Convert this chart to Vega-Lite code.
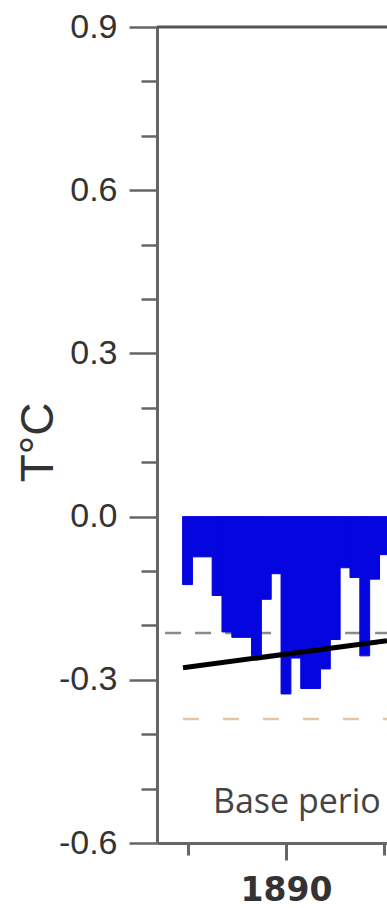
{
  "$schema": "https://vega.github.io/schema/vega-lite/v6.json",
  "width": 230,
  "height": 816,
  "autosize": {"type": "none"},
  "padding": {"left": 157, "top": 27, "right": 0, "bottom": 65},
  "background": "white",
  "config": {"view": {"stroke": null}},
  "datasets": {
    "bars": [
      {"x": 1884.75, "x2": 1885.25, "y": -0.125},
      {"x": 1885.25, "x2": 1885.75, "y": -0.074},
      {"x": 1885.75, "x2": 1886.25, "y": -0.074},
      {"x": 1886.25, "x2": 1886.75, "y": -0.145},
      {"x": 1886.75, "x2": 1887.25, "y": -0.212},
      {"x": 1887.25, "x2": 1887.75, "y": -0.222},
      {"x": 1887.75, "x2": 1888.25, "y": -0.222},
      {"x": 1888.25, "x2": 1888.75, "y": -0.256},
      {"x": 1888.75, "x2": 1889.25, "y": -0.152},
      {"x": 1889.25, "x2": 1889.75, "y": -0.105},
      {"x": 1889.75, "x2": 1890.25, "y": -0.326},
      {"x": 1890.25, "x2": 1890.75, "y": -0.26},
      {"x": 1890.75, "x2": 1891.25, "y": -0.316},
      {"x": 1891.25, "x2": 1891.75, "y": -0.316},
      {"x": 1891.75, "x2": 1892.25, "y": -0.28},
      {"x": 1892.25, "x2": 1892.75, "y": -0.226},
      {"x": 1892.75, "x2": 1893.25, "y": -0.094},
      {"x": 1893.25, "x2": 1893.75, "y": -0.112},
      {"x": 1893.75, "x2": 1894.25, "y": -0.256},
      {"x": 1894.25, "x2": 1894.75, "y": -0.115},
      {"x": 1894.75, "x2": 1895.25, "y": -0.07}
    ],
    "grey": [{"x": 1883.86, "x2": 1895.13, "y": -0.214}],
    "tan": [{"x": 1884.77, "x2": 1895.13, "y": -0.372}],
    "trend": [{"x": 1884.77, "y": -0.278}, {"x": 1895.13, "y": -0.228}],
    "label": [{"x": 1886.29, "y": -0.544, "text": "Base perio"}],
    "top": [{"y": 0.9}]
  },
  "layer": [
    {
      "data": {"name": "grey"},
      "mark": {"type": "rule", "color": "#8a8a8a", "strokeWidth": 2.5, "strokeDash": [16, 14]},
      "encoding": {
        "x": {"field": "x", "type": "quantitative"},
        "x2": {"field": "x2"},
        "y": {"field": "y", "type": "quantitative"}
      }
    },
    {
      "data": {"name": "tan"},
      "mark": {"type": "rule", "color": "#e2c6a6", "strokeWidth": 2.5, "strokeDash": [16, 24]},
      "encoding": {
        "x": {"field": "x", "type": "quantitative"},
        "x2": {"field": "x2"},
        "y": {"field": "y", "type": "quantitative"}
      }
    },
    {
      "data": {"name": "bars"},
      "mark": {"type": "rect", "color": "#0505e0", "stroke": "#0505e0", "strokeWidth": 1, "clip": true},
      "encoding": {
        "x": {
          "field": "x", "type": "quantitative",
          "scale": {"domain": [1883.45, 1895.13], "nice": false, "zero": false},
          "axis": {
            "title": null,
            "values": [1885, 1890, 1895],
            "labelExpr": "datum.value == 1890 ? '1890' : ''",
            "tickSize": {"condition": {"test": "datum.value == 1890", "value": 17}, "value": 12},
            "labelPadding": 14,
            "labelFont": "DejaVu Sans",
            "labelFontWeight": "bold",
            "labelFontSize": 33,
            "labelColor": "#333333",
            "domainColor": "#666666",
            "domainWidth": 3,
            "tickColor": "#666666",
            "tickWidth": 3,
            "grid": false,
            "labelFlush": false,
            "labelOverlap": false,
            "labelBound": false
          }
        },
        "x2": {"field": "x2"},
        "y": {
          "field": "y", "type": "quantitative",
          "scale": {"domain": [-0.6, 0.9], "nice": false, "zero": false},
          "axis": {
            "title": "T°C",
            "values": [-0.6, -0.5, -0.4, -0.3, -0.2, -0.1, 0, 0.1, 0.2, 0.3, 0.4, 0.5, 0.6, 0.7, 0.8, 0.9],
            "labelExpr": "abs(round(datum.value*10)) % 3 == 0 ? replace(format(datum.value, '.1f'), '\u2212', '-') : ''",
            "tickSize": {"condition": {"test": "abs(round(datum.value*10)) % 3 == 0", "value": 28}, "value": 16},
            "labelPadding": 12,
            "labelFont": "Liberation Sans",
            "labelFontSize": 34,
            "labelColor": "#333333",
            "domainColor": "#666666",
            "domainWidth": 3,
            "tickColor": "#666666",
            "tickWidth": 2.5,
            "grid": false,
            "labelOverlap": false,
            "labelBound": false,
            "labelFlush": false,
            "titleFont": "Liberation Sans",
            "titleFontSize": 46,
            "titleFontWeight": "normal",
            "titleColor": "#333333",
            "titleAngle": -90,
            "titleAlign": "center",
            "titleBaseline": "middle",
            "titleX": -119,
            "titleY": 415
          }
        },
        "y2": {"datum": 0}
      }
    },
    {
      "data": {"name": "trend"},
      "mark": {"type": "line", "color": "#000000", "strokeWidth": 5, "clip": true},
      "encoding": {
        "x": {"field": "x", "type": "quantitative"},
        "y": {"field": "y", "type": "quantitative"}
      }
    },
    {
      "data": {"name": "top"},
      "mark": {"type": "rule", "color": "#555555", "strokeWidth": 3},
      "encoding": {
        "y": {"field": "y", "type": "quantitative"}
      }
    },
    {
      "data": {"name": "label"},
      "mark": {"type": "text", "align": "left", "baseline": "alphabetic", "font": "Open Sans", "fontSize": 34, "color": "#444444"},
      "encoding": {
        "x": {"field": "x", "type": "quantitative"},
        "y": {"field": "y", "type": "quantitative"},
        "text": {"field": "text"}
      }
    }
  ]
}
